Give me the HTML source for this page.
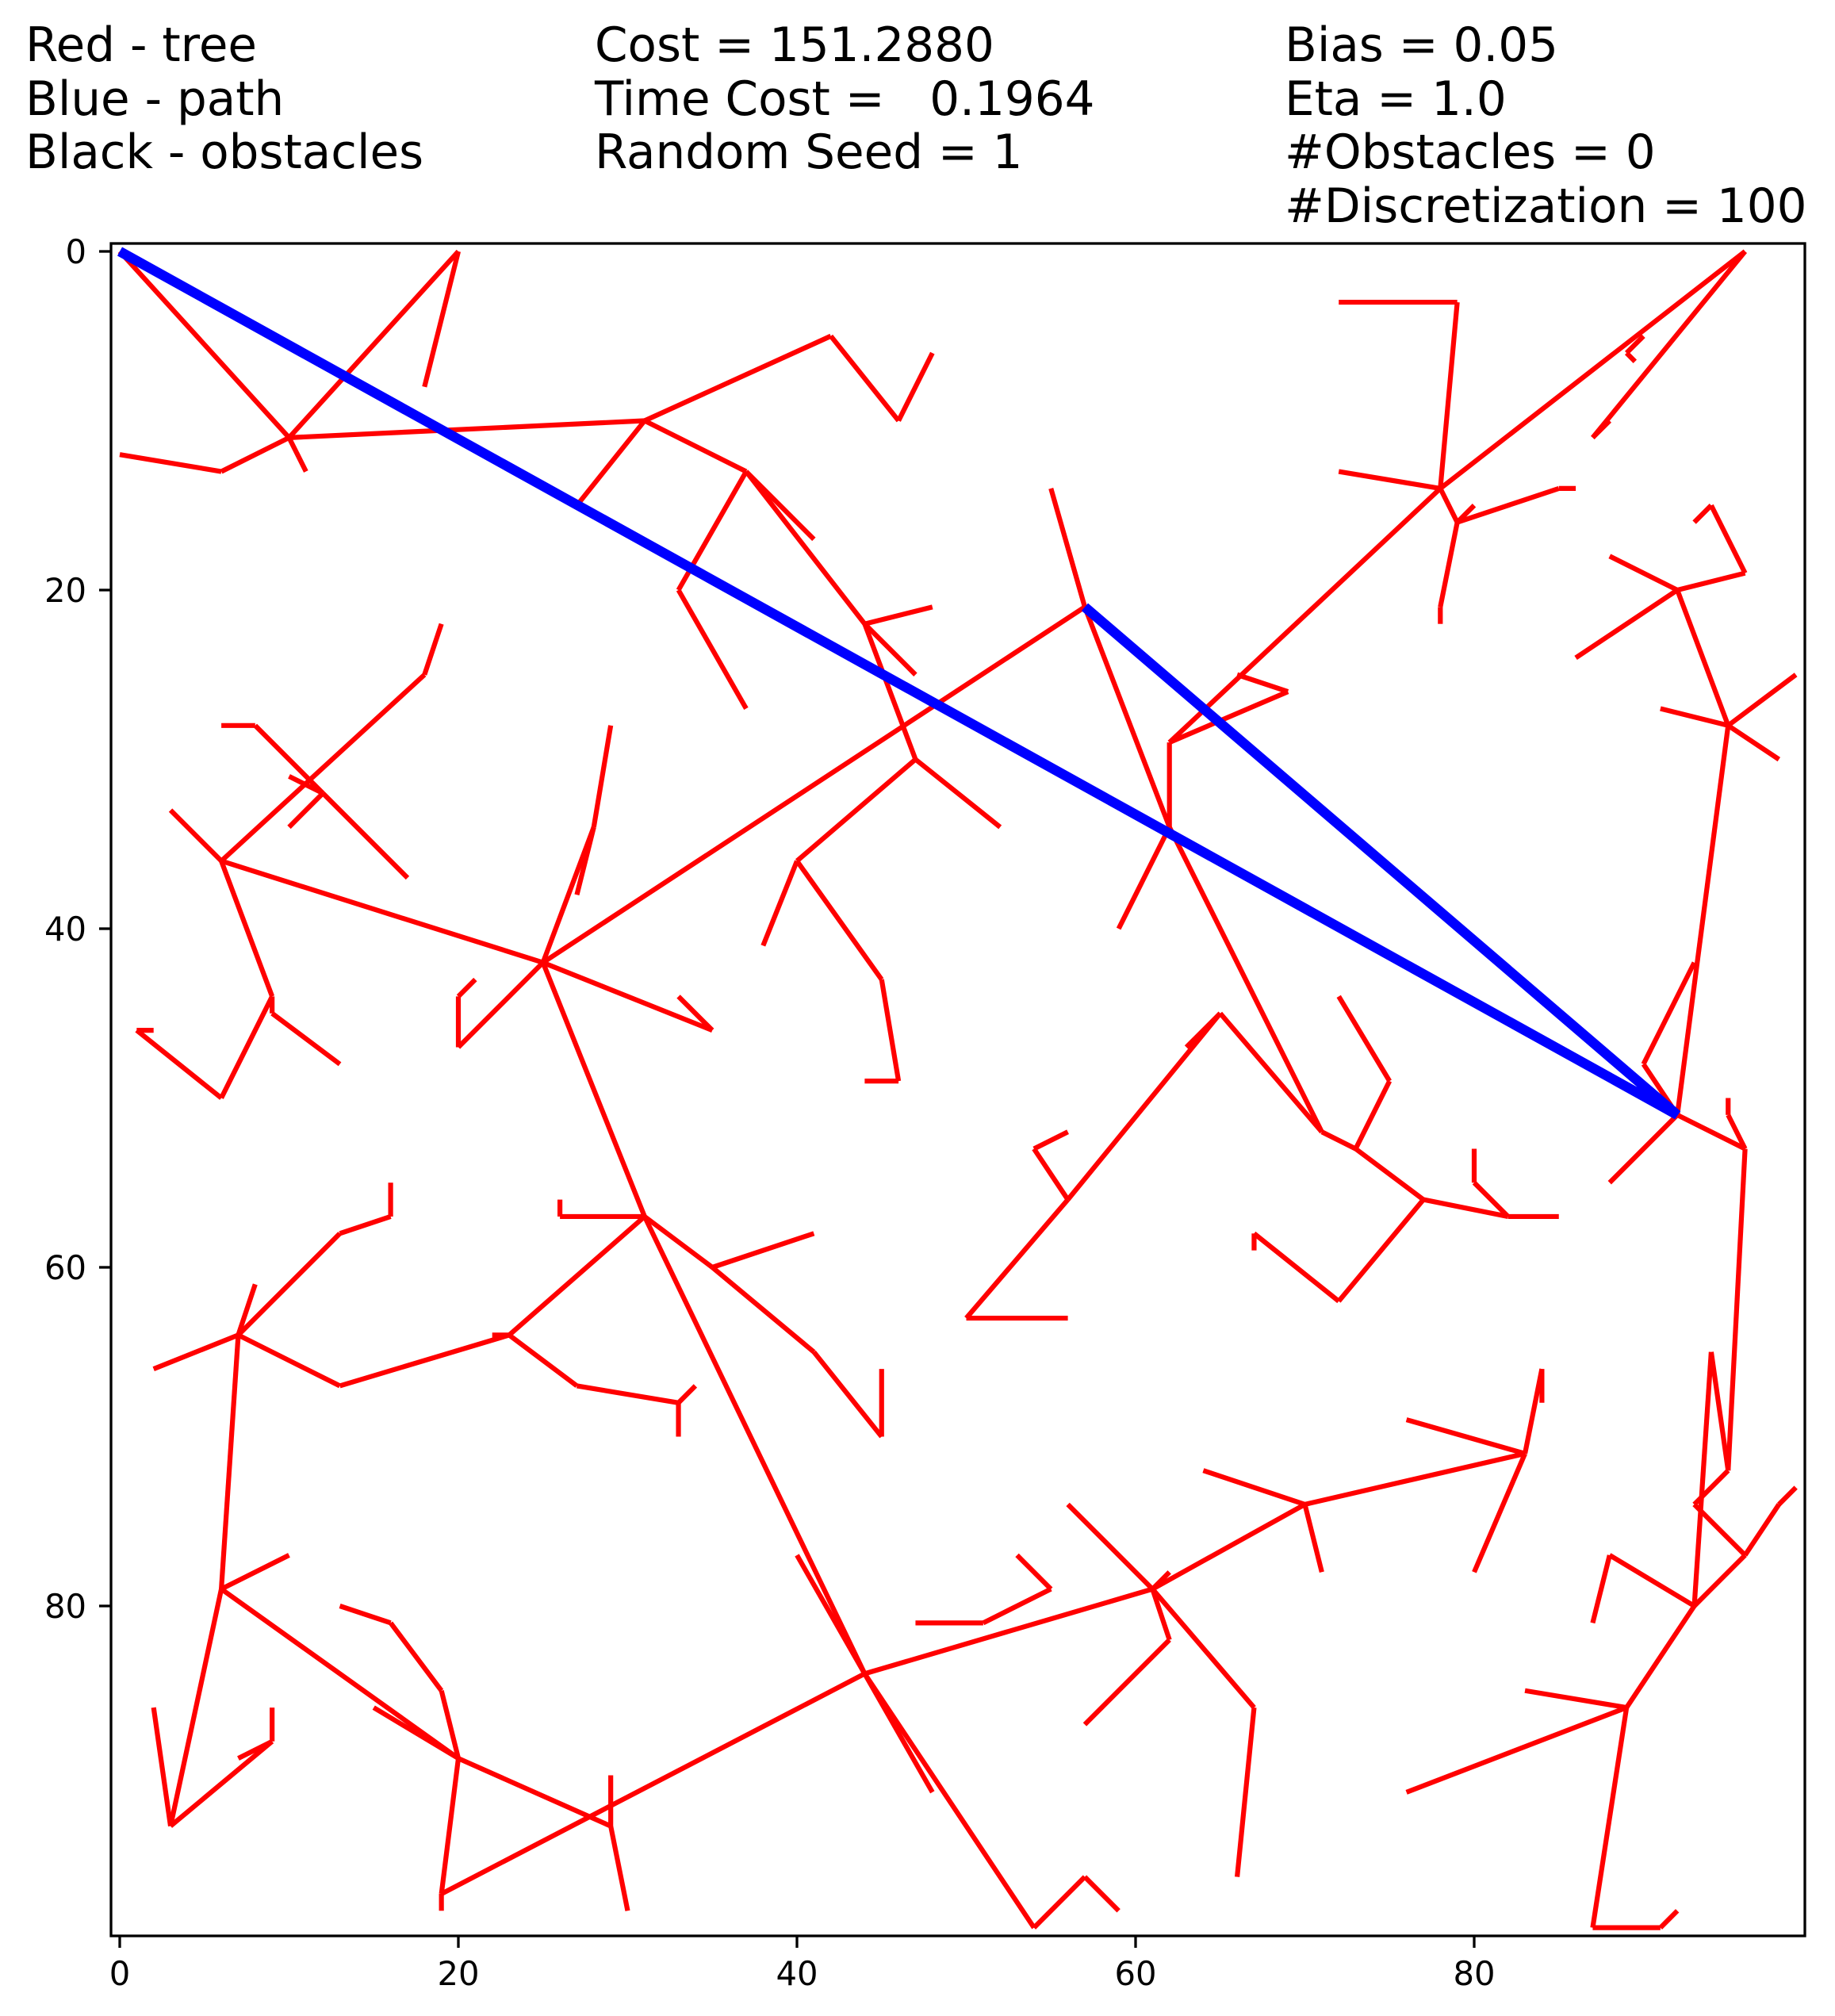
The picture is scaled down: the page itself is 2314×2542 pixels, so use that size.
<!DOCTYPE html>
<html><head><meta charset="utf-8"><style>
html,body{margin:0;padding:0;background:#fff;}
#wrap{position:relative;width:2314px;height:2542px;overflow:hidden;}
svg{position:absolute;left:0;top:0;}
text{font-family:"DejaVu Sans","Liberation Sans",sans-serif;fill:#000;}
</style></head><body>
<div id="wrap">
<svg id="svg" width="2314" height="2542" viewBox="0 0 2314 2542">
<g font-size="59.5">
<text x="32" y="77">Red - tree</text>
<text x="32" y="145">Blue - path</text>
<text x="32" y="212">Black - obstacles</text>
<text x="750" y="77">Cost = 151.2880</text>
<text x="750" y="145" xml:space="preserve">Time Cost =   0.1964</text>
<text x="750" y="212">Random Seed = 1</text>
<text x="1620" y="77">Bias = 0.05</text>
<text x="1620" y="145">Eta = 1.0</text>
<text x="1620" y="212">#Obstacles = 0</text>
<text x="1620" y="280">#Discretization = 100</text>
</g>
<g id="marks"></g>
<rect x="140" y="307" width="2136" height="2134" fill="none" stroke="#000" stroke-width="3.3"/>
<g id="axes"></g>
</svg>
</div>
<script>
const xTicks = [0, 20, 40, 60, 80];
const yTicks = [0, 20, 40, 60, 80];
const pathX = [0, 92, 57];
const pathY = [0, 51, 21];
const treeEdges = [
[0,0,10,11],[10,11,11,13],[10,11,20,0],[20,0,18,8],[10,11,6,13],[6,13,0,12],[10,11,31,10],
[31,10,42,5],[42,5,46,10],[46,10,48,6],[31,10,27,15],[31,10,37,13],[37,13,41,17],[37,13,33,20],[33,20,37,27],
[37,13,44,22],[44,22,48,21],[44,22,47,25],[44,22,47,30],[47,30,52,34],[47,30,40,36],[40,36,38,41],
[40,36,45,43],[45,43,46,49],[46,49,44,49],
[57,21,25,42],[57,21,55,14],[57,21,62,34],[62,34,71,52],[62,29,62,34],[62,34,59,40],[62,29,69,26],[69,26,66,25],
[96,0,78,14],[78,14,62,29],[96,0,87,11],[87,11,88,10],[89,6,90,5],[89,6,89.5,6.5],
[78,14,79,3],[79,3,72,3],[78,14,72,13],[78,14,79,16],[79,16,78,21],[78,21,78,22],[79,16,80,15],[79,16,85,14],[85,14,86,14],
[92,20,88,18],[92,20,86,24],[92,20,96,19],[96,19,94,15],[94,15,93,16],[92,20,95,28],[95,28,91,27],[95,28,99,25],[95,28,98,30],
[95,28,92,51],[93,42,90,48],[90,48,92,51],[92,51,88,55],[92,51,96,53],[96,53,95,51],[95,51,95,50],
[96,53,95,72],[94,65,95,72],[95,72,93,74],[93,74,96,77],[96,77,98,74],[98,74,99,73],[96,77,93,80],[93,80,94,65],
[93,80,88,77],[88,77,87,81],[93,80,89,86],[89,86,83,85],[89,86,76,91],[89,86,87,99],[87,99,91,99],[91,99,92,98],
[71,52,65,45],[65,45,63,47],[65,45,56,56],[56,56,50,63],[50,63,56,63],[56,56,54,53],[54,53,56,52],
[71,52,73,53],[73,53,75,49],[75,49,72,44],[73,53,77,56],[77,56,82,57],[82,57,85,57],[82,57,80,55],[80,55,80,53],
[77,56,72,62],[72,62,67,58],[67,58,67,59],
[25,42,6,36],[25,42,35,46],[35,46,33,44],[25,42,20,47],[20,47,20,44],[20,44,21,43],[25,42,28,34],[28,34,29,28],[28,34,27,38],
[25,42,31,57],[31,57,44,84],[44,84,54,99],[54,99,57,96],[57,96,59,98],[44,84,40,77],[44,84,48,91],
[19,97,44,84],[44,84,61,79],[61,79,70,74],[70,74,83,71],[83,71,84,66],[84,66,84,68],[83,71,76,69],[83,71,80,78],
[70,74,64,72],[70,74,71,78],[61,79,56,74],[61,79,62,78],[61,79,62,82],[62,82,57,87],[61,79,67,86],[67,86,66,96],
[47,81,51,81],[51,81,55,79],[55,79,53,77],
[6,36,18,25],[18,25,19,22],[12,32,8,28],[8,28,6,28],[12,32,17,37],[12,32,10,31],[12,32,10,34],[6,36,3,33],
[6,36,9,44],[9,44,9,45],[9,45,13,48],[9,44,6,50],[6,50,1,46],[1,46,2,46],
[31,57,26,57],[26,57,26,56],[31,57,35,60],[35,60,41,58],[35,60,41,65],[41,65,45,70],[45,70,45,66],
[31,57,23,64],[23,64,22,64],[23,64,27,67],[27,67,33,68],[33,68,33,70],[33,68,34,67],
[23,64,13,67],[13,67,7,64],[7,64,2,66],[7,64,8,61],[7,64,13,58],[13,58,16,57],[16,57,16,55],
[7,64,6,79],[6,79,10,77],[6,79,3,93],[3,93,2,86],[3,93,9,88],[9,88,9,86],[9,88,7,89],
[6,79,20,89],[20,89,19,97],[19,97,19,98],[20,89,19,85],[19,85,16,81],[16,81,13,80],[20,89,15,86],
[20,89,29,93],[29,93,29,90],[29,93,30,98]
];

const X0 = 151, Y0 = 317, S = 21.35;
function sx(v){ return X0 + v * S; }
function sy(v){ return Y0 + v * S; }
const NS = 'http://www.w3.org/2000/svg';
const marks = document.getElementById('marks');
const axes = document.getElementById('axes');

treeEdges.forEach(function(e, i){
  const l = document.createElementNS(NS, 'line');
  l.setAttribute('x1', sx(e[0])); l.setAttribute('y1', sy(e[1]));
  l.setAttribute('x2', sx(e[2])); l.setAttribute('y2', sy(e[3]));
  l.setAttribute('stroke', '#ff0000');
  l.setAttribute('stroke-width', '6.2');
  
  
  marks.appendChild(l);
});

const pts = pathX.map(function(v, i){ return sx(v) + ',' + sy(pathY[i]); }).join(' ');
const pl = document.createElementNS(NS, 'polyline');
pl.setAttribute('points', pts);
pl.setAttribute('fill', 'none');
pl.setAttribute('stroke', '#0000ff');
pl.setAttribute('stroke-width', '12.5');


marks.appendChild(pl);

xTicks.forEach(function(t){
  const l = document.createElementNS(NS, 'line');
  l.setAttribute('x1', sx(t)); l.setAttribute('x2', sx(t));
  l.setAttribute('y1', 2441); l.setAttribute('y2', 2456);
  l.setAttribute('stroke', '#000'); l.setAttribute('stroke-width', '3.3');
  
  
  axes.appendChild(l);
  const tx = document.createElementNS(NS, 'text');
  tx.setAttribute('x', sx(t)); tx.setAttribute('y', 2503);
  tx.setAttribute('text-anchor', 'middle'); tx.setAttribute('font-size', '41.7');
  tx.textContent = t;
  
  
  axes.appendChild(tx);
});
yTicks.forEach(function(t){
  const l = document.createElementNS(NS, 'line');
  l.setAttribute('x1', 125); l.setAttribute('x2', 140);
  l.setAttribute('y1', sy(t)); l.setAttribute('y2', sy(t));
  l.setAttribute('stroke', '#000'); l.setAttribute('stroke-width', '3.3');
  
  
  axes.appendChild(l);
  const tx = document.createElementNS(NS, 'text');
  tx.setAttribute('x', 109); tx.setAttribute('y', sy(t) + 15);
  tx.setAttribute('text-anchor', 'end'); tx.setAttribute('font-size', '41.7');
  tx.textContent = t;
  
  
  axes.appendChild(tx);
});
</script>
</body></html>
